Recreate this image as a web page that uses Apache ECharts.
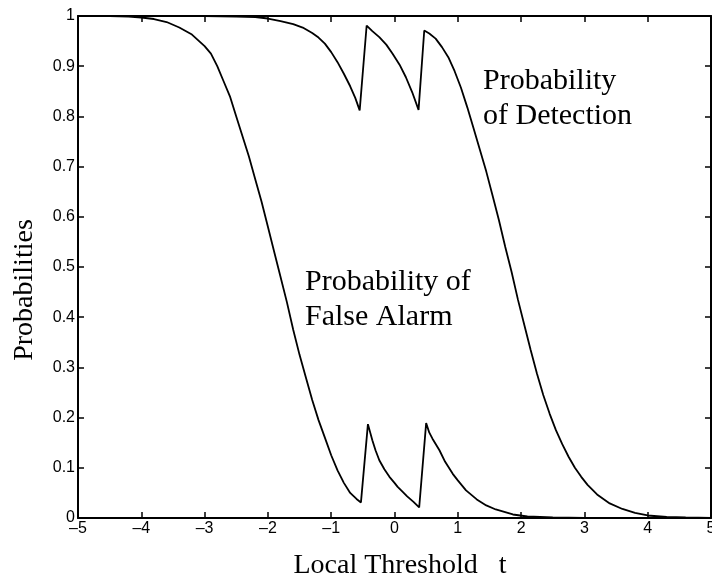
<!DOCTYPE html>
<html>
<head>
<meta charset="utf-8">
<script src="https://cdn.jsdelivr.net/npm/echarts@6/dist/echarts.min.js"></script>
<style>
html,body{margin:0;padding:0;background:#fff;overflow:hidden;}
#chart{width:712px;height:575px;}
</style>
</head>
<body>
<div id="chart"></div>
<script>
// Probability of False Alarm (x = local threshold t, y = probability)
const pfaX = [-5, -4.5, -4.2, -4.0, -3.8, -3.6, -3.4, -3.2, -3.0, -2.9, -2.8, -2.7, -2.6, -2.5, -2.4, -2.3, -2.2, -2.1,
  -2.0, -1.9, -1.8, -1.7, -1.6, -1.5, -1.4, -1.3, -1.2, -1.1, -1.0, -0.9, -0.8, -0.7, -0.6, -0.53,
  -0.42, -0.35, -0.3, -0.24, -0.16, -0.08, 0, 0.05, 0.13, 0.2, 0.3, 0.39,
  0.5, 0.55, 0.6, 0.71, 0.8, 0.92, 1.0, 1.13, 1.3, 1.45, 1.6, 1.87, 2.1, 2.5, 3, 4, 5];
const pfaY = [1.0, 1.0, 0.999, 0.997, 0.994, 0.988, 0.977, 0.963, 0.94, 0.925, 0.9, 0.87, 0.84, 0.8, 0.76, 0.72, 0.675, 0.63,
  0.58, 0.53, 0.48, 0.43, 0.375, 0.325, 0.28, 0.235, 0.195, 0.16, 0.125, 0.095, 0.07, 0.05, 0.038, 0.031,
  0.187, 0.155, 0.135, 0.115, 0.097, 0.082, 0.07, 0.062, 0.052, 0.043, 0.032, 0.021,
  0.189, 0.17, 0.158, 0.135, 0.112, 0.088, 0.075, 0.055, 0.037, 0.025, 0.017, 0.007, 0.003, 0.001, 0, 0, 0];
// Probability of Detection
const pdX = [-5, -3, -2.5, -2.2, -2.0, -1.8, -1.6, -1.45, -1.3, -1.2, -1.1, -1.0, -0.9, -0.8, -0.7, -0.62, -0.55,
  -0.44, -0.35, -0.24, -0.13, -0.03, 0.08, 0.18, 0.28, 0.38,
  0.47, 0.55, 0.65, 0.75, 0.85, 0.95, 1.05, 1.15, 1.25, 1.35, 1.45, 1.55, 1.65, 1.75, 1.85, 1.95, 2.05, 2.15, 2.25,
  2.35, 2.45, 2.55, 2.65, 2.75, 2.85, 2.95, 3.05, 3.2, 3.4, 3.6, 3.8, 4.0, 4.3, 4.6, 5];
const pdY = [1.0, 1.0, 0.999, 0.998, 0.995, 0.99, 0.984, 0.977, 0.966, 0.957, 0.945, 0.928, 0.908, 0.885, 0.86, 0.837, 0.812,
  0.981, 0.97, 0.958, 0.943, 0.925, 0.903, 0.878, 0.848, 0.813,
  0.971, 0.965, 0.955, 0.938, 0.918, 0.89, 0.857, 0.818, 0.776, 0.733, 0.69, 0.642, 0.593, 0.54, 0.49, 0.435, 0.385, 0.335, 0.288,
  0.245, 0.208, 0.175, 0.147, 0.122, 0.1, 0.082, 0.066, 0.047, 0.029, 0.018, 0.01, 0.005, 0.002, 0.001, 0];
const xTicks = [-5, -4, -3, -2, -1, 0, 1, 2, 3, 4, 5];
const yTicks = [0, 0.1, 0.2, 0.3, 0.4, 0.5, 0.6, 0.7, 0.8, 0.9, 1];

const chart = echarts.init(document.getElementById('chart'), null, {renderer: 'canvas', width: 712, height: 575});
const tickFont = {color: '#000', fontFamily: 'Liberation Sans, Arial, sans-serif', fontSize: 16};
const axisLine = {show: true, onZero: false, lineStyle: {color: '#000', width: 2}};
const tick = {show: true, inside: true, length: 6, lineStyle: {color: '#000', width: 1.5}};

const fmtX = v => (v < 0 ? '\u2013' + Math.abs(v) : String(v));

const option = {
  backgroundColor: '#fff',
  animation: false,
  grid: {left: 78, right: 1, top: 16, bottom: 57, containLabel: false, outerBoundsMode: 'none'},
  xAxis: [
    {type: 'value', min: xTicks[0], max: xTicks[xTicks.length - 1], interval: 1, position: 'bottom',
     axisLine: axisLine, axisTick: tick, splitLine: {show: false},
     axisLabel: Object.assign({margin: 3, formatter: fmtX}, tickFont),
     name: 'Local Threshold   t', nameLocation: 'middle', nameGap: 34,
     nameTextStyle: {color: '#000', fontFamily: 'Liberation Serif, Times New Roman, serif', fontSize: 28, padding: [0, 0, 0, 11]}},
    {type: 'value', min: xTicks[0], max: xTicks[xTicks.length - 1], interval: 1, position: 'top',
     axisLine: axisLine, axisTick: tick, splitLine: {show: false}, axisLabel: {show: false}}
  ],
  yAxis: [
    {type: 'value', min: yTicks[0], max: yTicks[yTicks.length - 1], interval: 0.1, position: 'left',
     axisLine: axisLine, axisTick: tick, splitLine: {show: false},
     axisLabel: Object.assign({margin: 3}, tickFont),
     name: 'Probabilities', nameLocation: 'middle', nameGap: 39, nameRotate: 90,
     nameTextStyle: {color: '#000', fontFamily: 'Liberation Serif, Times New Roman, serif', fontSize: 28, padding: [0, 46, 0, 0]}},
    {type: 'value', min: yTicks[0], max: yTicks[yTicks.length - 1], interval: 0.1, position: 'right',
     axisLine: axisLine, axisTick: tick, splitLine: {show: false}, axisLabel: {show: false}}
  ],
  series: [
    {name: 'Probability of False Alarm', type: 'line', xAxisIndex: 0, yAxisIndex: 0, showSymbol: false, smooth: false,
     lineStyle: {color: '#000', width: 1.8}, data: pfaX.map((x, i) => [x, pfaY[i]])},
    {name: 'Probability of Detection', type: 'line', xAxisIndex: 0, yAxisIndex: 0, showSymbol: false, smooth: false,
     lineStyle: {color: '#000', width: 1.8}, data: pdX.map((x, i) => [x, pdY[i]])}
  ],
  graphic: [
    {type: 'text', left: 305, top: 265, style: {text: 'Probability of\nFalse Alarm', fill: '#000',
      font: '30px "Liberation Serif", "Times New Roman", serif', lineHeight: 35}},
    {type: 'text', left: 483, top: 64, style: {text: 'Probability\nof Detection', fill: '#000',
      font: '30px "Liberation Serif", "Times New Roman", serif', lineHeight: 35}}
  ]
};
chart.setOption(option);
</script>
</body>
</html>
